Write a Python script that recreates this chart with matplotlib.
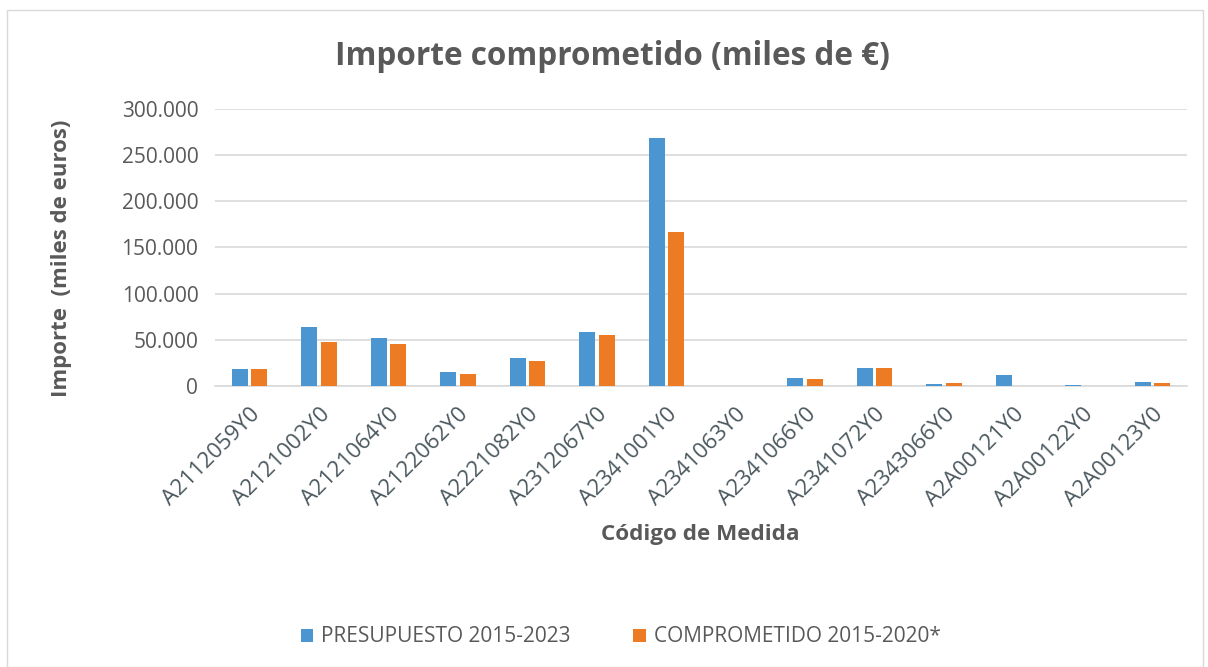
import matplotlib
matplotlib.use("Agg")
import matplotlib.pyplot as plt
import numpy as np
from matplotlib.ticker import FuncFormatter
from matplotlib.patches import Rectangle

categories = ["A2112059Y0", "A2121002Y0", "A2121064Y0", "A2122062Y0", "A2221082Y0",
              "A2312067Y0", "A2341001Y0", "A2341063Y0", "A2341066Y0", "A2341072Y0",
              "A2343066Y0", "A2A00121Y0", "A2A00122Y0", "A2A00123Y0"]
presupuesto = [18400, 64200, 52000, 15200, 30300, 58500, 269000, 300, 9000, 20000,
               2500, 12000, 1400, 4700]
comprometido = [18400, 47700, 45500, 13000, 27000, 55200, 167000, 200, 8000, 20000,
                3600, 300, 400, 3600]
series_labels = ["PRESUPUESTO 2015-2023", "COMPROMETIDO 2015-2020*"]
yticks = [0, 50000, 100000, 150000, 200000, 250000, 300000]

plt.rcParams['font.family'] = ['Open Sans', 'DejaVu Sans']
txt = '#595959'
blue = '#4b96d1'
orange = '#ed7b23'

fig = plt.figure(figsize=(12.08, 6.67), dpi=100)
fig.patches.append(Rectangle((0.006, 0.0), 0.99, 0.985, transform=fig.transFigure,
                             fill=False, edgecolor='#d9d9d9', linewidth=1))
ax = fig.add_axes([0.178, 0.4213, 0.8046, 0.4153])
x = np.arange(len(categories))
w = 0.23
ax.bar(x - 0.14, presupuesto, w, color=blue, label=series_labels[0], zorder=3)
ax.bar(x + 0.14, comprometido, w, color=orange, label=series_labels[1], zorder=3)
ax.set_xlim(-0.5, len(categories) - 0.5)
ax.set_ylim(0, 300000)
ax.set_yticks(yticks)
ax.yaxis.set_major_formatter(FuncFormatter(lambda v, p: f"{int(v):,}".replace(",", ".")))
ax.grid(axis='y', color='#d9d9d9', linewidth=1.2, zorder=0)
for s in ['top', 'right', 'left']:
    ax.spines[s].set_visible(False)
ax.spines['bottom'].set_color('#d9d9d9')
ax.spines['bottom'].set_linewidth(1.2)
ax.tick_params(axis='both', length=0, colors=txt)
ax.tick_params(axis='y', pad=12, labelsize=15)
ax.set_xticks(x)
ax.set_xticklabels(categories, rotation=45, ha='right', rotation_mode='anchor')
ax.tick_params(axis='x', pad=13, labelsize=16, labelcolor='#4a585e')

fig.text(0.507, 0.915, "Importe comprometido (miles de €)", ha='center', va='center',
         fontsize=22.7, fontweight='bold', color=txt)
fig.text(0.051, 0.613, "Importe  (miles de euros)", ha='center', va='center',
         rotation=90, fontsize=16, fontweight='bold', color=txt)
fig.text(0.5795, 0.198, "Código de Medida", ha='center', va='center',
         fontsize=16.2, fontweight='bold', color=txt)
leg = fig.legend(loc='center', bbox_to_anchor=(0.514, 0.045), ncol=2, frameon=False,
                 fontsize=15, handlelength=0.6, handleheight=0.6, columnspacing=3.0,
                 handletextpad=0.4)
for t in leg.get_texts():
    t.set_color(txt)

fig.savefig("out.png", dpi=100)
